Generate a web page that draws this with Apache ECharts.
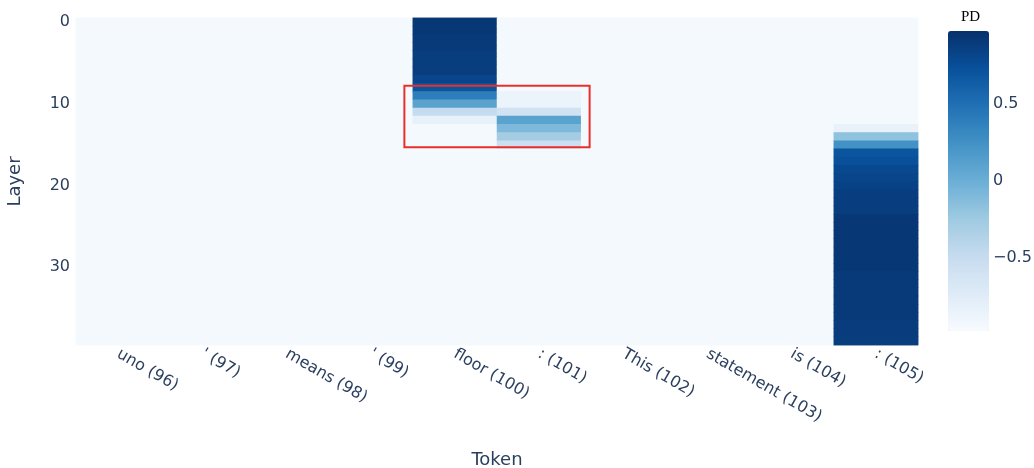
<!DOCTYPE html>
<html>
<head>
<meta charset="utf-8">
<script src="https://cdn.jsdelivr.net/npm/echarts@6/dist/echarts.min.js"></script>
<style>
  html, body { margin: 0; padding: 0; background: #ffffff; }
  #chart { width: 1034px; height: 468px; }
</style>
</head>
<body>
<div id="chart"></div>
<script>
// Tokens along the x axis, layers along the y axis
const tokens = ['uno (96)', "' (97)", 'means (98)', "' (99)", 'floor (100)',
                ': (101)', 'This (102)', 'statement (103)', 'is (104)', ': (105)'];
const layerCount = 40;
const layerTicks = [0, 10, 20, 30];

// PD value of every cell in the quiet columns
const quietValue = -0.95;

// PD per layer (0..39) for the columns that respond
const pdFloor100 = [
  0.92, 0.92, 0.90, 0.90, 0.88, 0.88, 0.88, 0.82, 0.70, 0.39,
  0.10, -0.49, -0.82, -0.95, -0.95, -0.95, -0.95, -0.95, -0.95, -0.95,
  -0.95, -0.95, -0.95, -0.95, -0.95, -0.95, -0.95, -0.95, -0.95, -0.95,
  -0.95, -0.95, -0.95, -0.95, -0.95, -0.95, -0.95, -0.95, -0.95, -0.95
];
const pdColon101 = [
  -0.95, -0.95, -0.95, -0.95, -0.95, -0.95, -0.95, -0.95, -0.95, -0.86,
  -0.86, -0.60, 0.10, -0.09, -0.28, -0.55, -0.95, -0.95, -0.95, -0.95,
  -0.95, -0.95, -0.95, -0.95, -0.95, -0.95, -0.95, -0.95, -0.95, -0.95,
  -0.95, -0.95, -0.95, -0.95, -0.95, -0.95, -0.95, -0.95, -0.95, -0.95
];
const pdColon105 = [
  -0.95, -0.95, -0.95, -0.95, -0.95, -0.95, -0.95, -0.95, -0.95, -0.95,
  -0.95, -0.95, -0.95, -0.84, -0.17, 0.24, 0.70, 0.74, 0.80, 0.82,
  0.84, 0.87, 0.87, 0.88, 0.92, 0.92, 0.92, 0.92, 0.92, 0.92,
  0.92, 0.90, 0.90, 0.90, 0.90, 0.90, 0.90, 0.89, 0.89, 0.88
];
const activeColumns = { 4: pdFloor100, 5: pdColon101, 9: pdColon105 };

// Colour scale range and colour bar ticks
const pdMin = -0.975;
const pdMax = 0.975;
const colorbarTicks = [-0.5, 0, 0.5];

// Highlighted region (token index span, layer span)
const boxTokens = [3.4, 5.6];
const boxLayers = [7.8, 15.3];

const blues = ['#f7fbff', '#deebf7', '#c6dbef', '#9ecae1', '#6baed6',
               '#4292c6', '#2171b5', '#08519c', '#08306b'];

const layers = [];
for (let i = 0; i < layerCount; i++) layers.push(String(i));

const cells = [];
tokens.forEach((t, xi) => {
  const col = activeColumns[xi];
  for (let yi = 0; yi < layerCount; yi++) {
    cells.push([xi, yi, col ? col[yi] : quietValue]);
  }
});

const textColor = '#2a3f5f';
const font = 'DejaVu Sans, Verdana, sans-serif';
const tickSize = 16;

// The cell layer is painted twice so the anti-aliased seams between
// fractional-pixel rows do not let the background show through.
const heatLayer = () => ({
  type: 'heatmap', xAxisIndex: 0, yAxisIndex: 0, data: cells,
  itemStyle: { borderWidth: 0 }, emphasis: { disabled: true }, progressive: 0, silent: true
});

const chart = echarts.init(document.getElementById('chart'), null, { renderer: 'canvas' });
chart.setOption({
  animation: false,
  backgroundColor: '#ffffff',
  title: {
    text: 'PD',
    left: 956, top: 5,
    textStyle: { fontFamily: 'Liberation Serif, Times New Roman, serif', fontSize: 15, fontWeight: 'normal', color: '#000000' }
  },
  grid: [
    { left: 76, right: 116, top: 18, bottom: 123, outerBoundsMode: 'none', containLabel: false },
    { left: 948, width: 41, top: 31, height: 300, outerBoundsMode: 'none', containLabel: false }
  ],
  xAxis: [
    {
      type: 'category', gridIndex: 0, data: tokens,
      name: 'Token', nameLocation: 'middle', nameGap: 106,
      nameTextStyle: { color: textColor, fontSize: 18, fontFamily: font },
      axisLine: { show: false }, axisTick: { show: false }, splitLine: { show: false },
      axisLabel: { rotate: -30, interval: 0, margin: 8, color: textColor, fontSize: tickSize, fontFamily: font }
    },
    { type: 'value', gridIndex: 1, show: false }
  ],
  yAxis: [
    {
      type: 'category', gridIndex: 0, data: layers, inverse: true,
      name: 'Layer', nameLocation: 'middle', nameGap: 52,
      nameTextStyle: { color: textColor, fontSize: 18, fontFamily: font },
      axisLine: { show: false }, axisTick: { show: false }, splitLine: { show: false },
      axisLabel: {
        interval: (idx) => layerTicks.indexOf(idx) >= 0,
        margin: 6, color: textColor, fontSize: tickSize, fontFamily: font
      }
    },
    {
      type: 'value', gridIndex: 1, position: 'right', min: pdMin, max: pdMax,
      axisLine: { show: false }, axisTick: { show: false }, splitLine: { show: false },
      axisLabel: {
        customValues: colorbarTicks, margin: 4, color: textColor, fontSize: tickSize, fontFamily: font,
        formatter: (v) => String(v).replace('-', '\u2212')
      }
    }
  ],
  visualMap: {
    type: 'continuous', min: pdMin, max: pdMax, seriesIndex: [0, 1],
    left: 948, top: 31, itemWidth: 41, itemHeight: 300, padding: 0,
    calculable: false, text: null, showLabel: false, hoverLink: false,
    inRange: { color: blues }
  },
  series: [
    heatLayer(),
    heatLayer(),
    {
      type: 'custom', xAxisIndex: 0, yAxisIndex: 0, silent: true, z: 10, clip: false,
      data: [[boxTokens[0], boxTokens[1], boxLayers[0], boxLayers[1]]],
      renderItem: (params, api) => {
        const x0 = api.value(0), x1 = api.value(1), y0 = api.value(2), y1 = api.value(3);
        const ref = api.coord([4, 8]);
        const sz = api.size([1, 1]);
        const left = ref[0] + (x0 - 4) * sz[0];
        const right = ref[0] + (x1 - 4) * sz[0];
        const top = ref[1] + (y0 - 8) * sz[1];
        const bottom = ref[1] + (y1 - 8) * sz[1];
        return {
          type: 'rect',
          shape: { x: left, y: top, width: right - left, height: bottom - top },
          style: { fill: 'none', stroke: '#e8302a', lineWidth: 2 }
        };
      }
    }
  ]
});
</script>
</body>
</html>
